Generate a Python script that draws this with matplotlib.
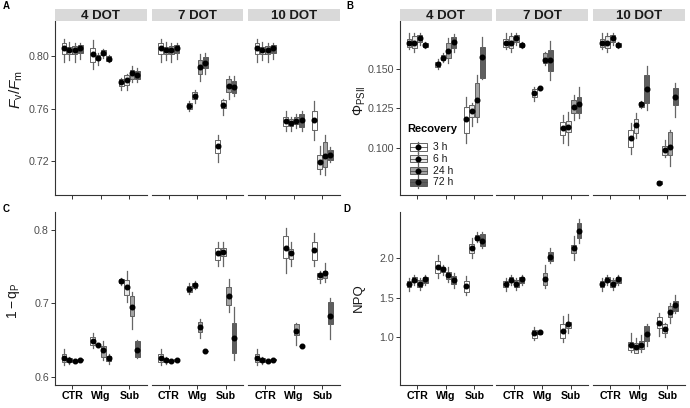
import numpy as np
import matplotlib
matplotlib.use('Agg')
import matplotlib.pyplot as plt
from matplotlib.patches import Rectangle

plt.rcParams['font.family'] = ['Liberation Sans', 'DejaVu Sans']
plt.rcParams['mathtext.fontset'] = 'custom'
plt.rcParams['mathtext.rm'] = 'Liberation Sans'
plt.rcParams['mathtext.it'] = 'Liberation Sans:italic'
plt.rcParams['mathtext.bf'] = 'Liberation Sans:bold'

facets = ['4 DOT', '7 DOT', '10 DOT']
treatments = ['CTR', 'Wlg', 'Sub']
recovery = ['3 h', '6 h', '24 h', '72 h']
fills = ['#ffffff', '#e6e6e6', '#a3a3a3', '#5e5e5e']

# ---- A: Fv/Fm  [facet][treatment][recovery]
fvfm_ctr = [[0.806, 0.805, 0.805, 0.806], [0.802, 0.8015, 0.802, 0.8025],
            [0.810, 0.807, 0.8076, 0.8083], [0.796, 0.7975, 0.796, 0.798],
            [0.8134, 0.811, 0.8104, 0.8104]]  # mean, q1, q3, lo, hi
fvfm_mean = [[fvfm_ctr[0], [0.802, 0.799, 0.8028, 0.798], [0.7805, 0.7818, 0.7873, 0.7856]],
             [fvfm_ctr[0], [0.7623, 0.7696, 0.7919, 0.7952], [0.7315, 0.7628, 0.7775, 0.7767]],
             [fvfm_ctr[0], [0.7509, 0.7494, 0.7509, 0.7514], [0.7514, 0.7193, 0.7236, 0.7249]]]
fvfm_q1 = [[fvfm_ctr[1], [0.7957, 0.797, 0.8008, 0.7962], [0.7772, 0.778, 0.783, 0.783]],
           [fvfm_ctr[1], [0.760, 0.7671, 0.7863, 0.7907], [0.7261, 0.7608, 0.7729, 0.772]],
           [fvfm_ctr[1], [0.7469, 0.7464, 0.7479, 0.7459], [0.7438, 0.7135, 0.7152, 0.7211]]]
fvfm_q3 = [[fvfm_ctr[2], [0.8063, 0.8013, 0.8046, 0.800], [0.7823, 0.7856, 0.7894, 0.7889]],
           [fvfm_ctr[2], [0.7646, 0.7725, 0.797, 0.7995], [0.7362, 0.7666, 0.7823, 0.7813]],
           [fvfm_ctr[2], [0.7539, 0.7524, 0.7534, 0.756], [0.7585, 0.7249, 0.7342, 0.7287]]]
fvfm_lo = [[fvfm_ctr[3], [0.7906, 0.7937, 0.7987, 0.7957], [0.7742, 0.7742, 0.7805, 0.7805]],
           [fvfm_ctr[3], [0.7585, 0.7646, 0.7812, 0.7863], [0.7193, 0.7552, 0.7674, 0.7699]],
           [fvfm_ctr[3], [0.7431, 0.7426, 0.7451, 0.7431], [0.7362, 0.7097, 0.7092, 0.719]]]
fvfm_hi = [[fvfm_ctr[4], [0.8127, 0.8025, 0.8058, 0.8008], [0.7838, 0.7868, 0.7924, 0.7914]],
           [fvfm_ctr[4], [0.7661, 0.7744, 0.802, 0.8025], [0.740, 0.7676, 0.785, 0.7853]],
           [fvfm_ctr[4], [0.7583, 0.7539, 0.7559, 0.7585], [0.7661, 0.7317, 0.740, 0.7305]]]

# ---- B: PhiPSII
phi_ctr = [[0.1663, 0.1667, 0.1695, 0.1653], [0.1638, 0.1631, 0.1674, 0.1638],
           [0.1689, 0.171, 0.1716, 0.1663], [0.1625, 0.161, 0.1653, 0.1631],
           [0.1727, 0.1727, 0.1727, 0.1674]]
phi_mean = [[phi_ctr[0], [0.1532, 0.1572, 0.1617, 0.167], [0.118, 0.1235, 0.1303, 0.1574]],
            [phi_ctr[0], [0.135, 0.1377, 0.1557, 0.1557], [0.1123, 0.1129, 0.1256, 0.1275]],
            [phi_ctr[0], [0.1059, 0.1144, 0.1275, 0.1373], [0.0777, 0.0985, 0.1006, 0.1324]]]
phi_q1 = [[phi_ctr[1], [0.1515, 0.1557, 0.1568, 0.1631], [0.1095, 0.1193, 0.1197, 0.1441]],
          [phi_ctr[1], [0.132, 0.137, 0.1536, 0.1489], [0.108, 0.1097, 0.1222, 0.1222]],
          [phi_ctr[1], [0.1006, 0.1095, 0.1256, 0.1282], [0.0770, 0.0953, 0.0953, 0.1271]]]
phi_q3 = [[phi_ctr[2], [0.1547, 0.1589, 0.1667, 0.1706], [0.1256, 0.1271, 0.1413, 0.1638]],
          [phi_ctr[2], [0.1373, 0.1381, 0.160, 0.1621], [0.1165, 0.1169, 0.1303, 0.1324]],
          [phi_ctr[2], [0.1112, 0.1182, 0.1292, 0.1462], [0.0785, 0.101, 0.1101, 0.1377]]]
phi_lo = [[phi_ctr[3], [0.1498, 0.1547, 0.154, 0.161], [0.1027, 0.1137, 0.1165, 0.1434]],
          [phi_ctr[3], [0.1299, 0.1364, 0.1525, 0.143], [0.1027, 0.1017, 0.1176, 0.1186]],
          [phi_ctr[3], [0.0957, 0.1059, 0.125, 0.1239], [0.0768, 0.0942, 0.0885, 0.1197]]]
phi_hi = [[phi_ctr[4], [0.1561, 0.160, 0.1695, 0.1723], [0.132, 0.1286, 0.1462, 0.1706]],
          [phi_ctr[4], [0.1388, 0.1388, 0.161, 0.168], [0.1207, 0.1229, 0.1335, 0.1388]],
          [phi_ctr[4], [0.1154, 0.1218, 0.1299, 0.1519], [0.0787, 0.1048, 0.1112, 0.1409]]]

# ---- C: 1 - qP
qp_ctr = [[0.6263, 0.6236, 0.6218, 0.6232], [0.6209, 0.6196, 0.621, 0.6225],
          [0.6317, 0.6263, 0.6225, 0.6238], [0.6164, 0.6182, 0.6205, 0.622],
          [0.6376, 0.6277, 0.623, 0.6243]]
qp_mean = [[qp_ctr[0], [0.6488, 0.643, 0.6362, 0.625], [0.7307, 0.7217, 0.6947, 0.6362]],
           [qp_ctr[0], [0.7195, 0.7244, 0.6681, 0.6353], [0.768, 0.7703, 0.7105, 0.6533]],
           [qp_ctr[0], [0.7748, 0.768, 0.6623, 0.642], [0.7717, 0.7379, 0.741, 0.6834]]]
qp_q1 = [[qp_ctr[1], [0.6434, 0.6418, 0.6272, 0.6218], [0.7276, 0.7118, 0.6826, 0.6272]],
         [qp_ctr[1], [0.715, 0.7208, 0.661, 0.6348], [0.759, 0.7636, 0.6983, 0.6322]],
         [qp_ctr[1], [0.7613, 0.7604, 0.6565, 0.6415], [0.759, 0.733, 0.7343, 0.6713]]]
qp_q3 = [[qp_ctr[2], [0.6542, 0.6443, 0.642, 0.6286], [0.7334, 0.732, 0.7105, 0.6488]],
         [qp_ctr[2], [0.723, 0.7275, 0.6745, 0.6358], [0.7748, 0.7748, 0.7222, 0.6736]],
         [qp_ctr[2], [0.7915, 0.7739, 0.6713, 0.6425], [0.7829, 0.741, 0.7442, 0.7015]]]
qp_lo = [[qp_ctr[3], [0.6389, 0.641, 0.6227, 0.6173], [0.7253, 0.7019, 0.6646, 0.6263]],
         [qp_ctr[3], [0.7127, 0.7195, 0.6533, 0.6345], [0.751, 0.751, 0.688, 0.6232]],
         [qp_ctr[3], [0.741, 0.751, 0.643, 0.6412], [0.750, 0.7276, 0.7284, 0.652]]]
qp_hi = [[qp_ctr[4], [0.660, 0.645, 0.6488, 0.6317], [0.7343, 0.7433, 0.715, 0.6502]],
         [qp_ctr[4], [0.7275, 0.7298, 0.678, 0.636], [0.7829, 0.7829, 0.7334, 0.6947]],
         [qp_ctr[4], [0.8018, 0.7838, 0.6736, 0.6428], [0.796, 0.7433, 0.7546, 0.7073]]]

# ---- D: NPQ
npq_ctr = [[1.674, 1.725, 1.674, 1.733], [1.64, 1.695, 1.64, 1.69],
           [1.712, 1.767, 1.725, 1.767], [1.585, 1.665, 1.598, 1.665],
           [1.746, 1.788, 1.754, 1.788]]
npq_mean = [[npq_ctr[0], [1.894, 1.864, 1.788, 1.725], [1.653, 2.127, 2.263, 2.22]],
            [npq_ctr[0], [1.047, 1.059, 1.737, 2.021], [1.076, 1.161, 2.127, 2.347]],
            [npq_ctr[0], [0.898, 0.877, 0.898, 1.038], [1.182, 1.102, 1.322, 1.407]]]
npq_q1 = [[npq_ctr[1], [1.809, 1.822, 1.737, 1.67], [1.576, 2.064, 2.233, 2.161]],
          [npq_ctr[1], [0.983, 1.042, 1.661, 1.966], [0.992, 1.119, 2.064, 2.254]],
          [npq_ctr[1], [0.835, 0.801, 0.843, 0.953], [1.11, 1.047, 1.259, 1.335]]]
npq_q3 = [[npq_ctr[2], [1.966, 1.894, 1.83, 1.775], [1.712, 2.178, 2.297, 2.305]],
          [npq_ctr[2], [1.089, 1.068, 1.809, 2.076], [1.161, 1.195, 2.17, 2.445]],
          [npq_ctr[2], [0.941, 0.928, 0.949, 1.14], [1.259, 1.161, 1.394, 1.462]]]
npq_lo = [[npq_ctr[3], [1.746, 1.788, 1.695, 1.619], [1.534, 2.008, 2.212, 2.136]],
          [npq_ctr[3], [0.962, 1.035, 1.619, 1.936], [0.941, 1.047, 1.979, 2.199]],
          [npq_ctr[3], [0.814, 0.792, 0.814, 0.886], [1.013, 1.004, 1.182, 1.301]]]
npq_hi = [[npq_ctr[4], [2.042, 1.915, 1.894, 1.81], [1.775, 2.254, 2.33, 2.33]],
          [npq_ctr[4], [1.131, 1.072, 1.915, 2.136], [1.271, 1.288, 2.288, 2.5]],
          [npq_ctr[4], [1.047, 0.983, 1.025, 1.165], [1.301, 1.174, 1.428, 1.534]]]

# ---- layout (pixels)
W, H = 690, 408
fig = plt.figure(figsize=(W / 100, H / 100), dpi=100)
FW, GAP = 91.5, 5
EDGE = '#4d4d4d'
AX = '#333333'


def px_axes(x0, y0, x1, y1):
    return fig.add_axes([x0 / W, 1 - y1 / H, (x1 - x0) / W, (y1 - y0) / H])


def draw_panel(left, top, bottom, data, ylim, yticks, ylabels, strips, xlabels):
    mean, q1, q3, lo, hi = [np.array(d) for d in data]
    offs = (np.arange(4) - 1.5) * 0.1875
    for f in range(3):
        x0 = left + f * (FW + GAP)
        ax = px_axes(x0, top, x0 + FW, bottom)
        for t in range(3):
            stats = []
            for r in range(4):
                stats.append(dict(med=mean[f, t, r], q1=q1[f, t, r], q3=q3[f, t, r],
                                  whislo=lo[f, t, r], whishi=hi[f, t, r],
                                  mean=mean[f, t, r], fliers=[]))
            bp = ax.bxp(stats, positions=t + 1 + offs, widths=0.165, patch_artist=True,
                        showcaps=False, showmeans=True, manage_ticks=False,
                        boxprops=dict(edgecolor=EDGE, linewidth=0.6),
                        whiskerprops=dict(color='#666666', linewidth=0.9),
                        medianprops=dict(color=EDGE, linewidth=0.6),
                        meanprops=dict(marker='o', markerfacecolor='black',
                                       markeredgecolor='black', markersize=3.3))
            for patch, c in zip(bp['boxes'], fills):
                patch.set_facecolor(c)
        ax.set_xlim(0.4, 3.6)
        ax.set_ylim(*ylim)
        ax.set_xticks([1, 2, 3])
        ax.set_facecolor('none')
        for s in ['top', 'right']:
            ax.spines[s].set_visible(False)
        ax.spines['bottom'].set_color(AX)
        ax.spines['left'].set_color(AX)
        ax.spines['bottom'].set_linewidth(0.8)
        ax.spines['left'].set_linewidth(0.8)
        ax.tick_params(colors=AX, length=2.9, width=0.7, pad=1.5)
        if xlabels:
            ax.set_xticklabels(treatments, fontsize=7.7, fontweight='bold', color='black')
        else:
            ax.set_xticklabels([])
        if f == 0:
            ax.set_yticks(yticks)
            ax.set_yticklabels(ylabels, fontsize=7.7, color='#4d4d4d')
        else:
            ax.spines['left'].set_visible(False)
            ax.set_yticks([])
        if strips:
            sx = px_axes(x0, top - 11.7, x0 + FW, top)
            sx.set_facecolor('#d9d9d9')
            sx.set_xticks([])
            sx.set_yticks([])
            for s in sx.spines.values():
                s.set_visible(False)
            sx.text(0.5, 0.47, facets[f], ha='center', va='center', fontsize=9.5,
                    fontweight='bold', color='#1a1a1a', transform=sx.transAxes)


draw_panel(55, 21, 195, [fvfm_mean, fvfm_q1, fvfm_q3, fvfm_lo, fvfm_hi],
           (0.694, 0.827), [0.72, 0.76, 0.80], ['0.72', '0.76', '0.80'], True, False)
draw_panel(400, 21, 195, [phi_mean, phi_q1, phi_q3, phi_lo, phi_hi],
           (0.0699, 0.1805), [0.100, 0.125, 0.150], ['0.100', '0.125', '0.150'], True, False)
draw_panel(55, 211.7, 385, [qp_mean, qp_q1, qp_q3, qp_lo, qp_hi],
           (0.589, 0.8244), [0.6, 0.7, 0.8], ['0.6', '0.7', '0.8'], False, True)
draw_panel(400, 211.7, 385, [npq_mean, npq_q1, npq_q3, npq_lo, npq_hi],
           (0.389, 2.593), [1.0, 1.5, 2.0], ['1.0', '1.5', '2.0'], False, True)

# overlay in pixel coords for labels and legend
ov = fig.add_axes([0, 0, 1, 1], zorder=10)
ov.set_xlim(0, W)
ov.set_ylim(H, 0)
ov.axis('off')
ov.patch.set_alpha(0)

for lab, x, y in [('A', 3, 6), ('B', 346, 6), ('C', 3, 209), ('D', 343, 209)]:
    ov.text(x, y, lab, fontsize=7, fontweight='bold', ha='left', va='center')

ov.text(16, 90, r'$F_{\mathrm{v}}/F_{\mathrm{m}}$', rotation=90, fontsize=11,
        ha='center', va='center', color='#1a1a1a')
ov.text(360, 101, r'$\Phi_{\mathrm{PSII}}$', rotation=90, fontsize=10,
        ha='center', va='center', color='#1a1a1a')
ov.text(13, 301, r'$\mathrm{1-q_{P}}$', rotation=90, fontsize=10,
        ha='center', va='center', color='#1a1a1a')
ov.text(359, 298, 'NPQ', rotation=90, fontsize=9.5, ha='center', va='center',
        color='#1a1a1a')

# legend
ov.text(407, 129, 'Recovery', fontsize=8, fontweight='bold', ha='left', va='center')
for i, (lab, c) in enumerate(zip(recovery, fills)):
    yc = 147 + i * 11.8
    ov.plot([418, 418], [yc - 5.5, yc + 5.5], color='#666666', lw=0.9)
    ov.add_patch(Rectangle((409.5, yc - 3.6), 17.5, 7.2, facecolor=c,
                           edgecolor=EDGE, lw=0.6))
    ov.plot([409.5, 427], [yc, yc], color=EDGE, lw=0.6)
    ov.plot(418, yc, 'o', color='black', markersize=3.3)
    ov.text(433, yc, lab, fontsize=7.5, ha='left', va='center', color='#1a1a1a')

fig.savefig('out.png', dpi=100)
